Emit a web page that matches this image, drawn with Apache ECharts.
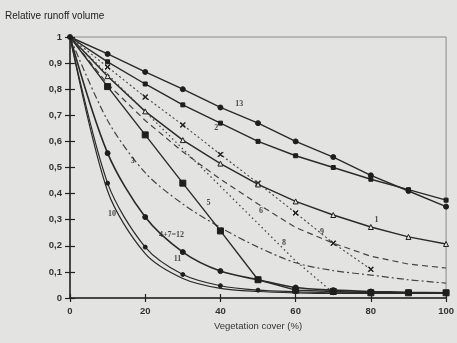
<!DOCTYPE html>
<html>
<head>
<meta charset="utf-8">
<script src="https://cdn.jsdelivr.net/npm/echarts@6/dist/echarts.min.js"></script>
<style>
  html, body { margin: 0; padding: 0; background: #e3e3e1; }
  #chart { width: 457px; height: 343px; }
</style>
</head>
<body>
<div id="chart"></div>
<script>
// vegetation cover (%)
var cover = [0, 10, 20, 30, 40, 50, 60, 70, 80, 90, 100];

// relative runoff volume per curve
var c13 = [1, 0.935, 0.866, 0.80, 0.73, 0.67, 0.60, 0.54, 0.47, 0.41, 0.35];
var c2 = [1, 0.905, 0.82, 0.74, 0.67, 0.60, 0.545, 0.50, 0.455, 0.415, 0.375];
var c9 = [1, 0.885, 0.77, 0.663, 0.55, 0.44, 0.326, 0.21, 0.11];
var c1 = [1, 0.85, 0.715, 0.605, 0.515, 0.435, 0.37, 0.318, 0.272, 0.234, 0.207];
var c6 = [1, 0.82, 0.68, 0.56, 0.455, 0.36, 0.27, 0.21, 0.16, 0.13, 0.115];
var c8 = [1, 0.857, 0.714, 0.571, 0.428, 0.285, 0.142, 0.02];
var c3 = [1, 0.68, 0.48, 0.36, 0.27, 0.195, 0.135, 0.105, 0.088, 0.07, 0.057];
var c5 = [1, 0.81, 0.625, 0.44, 0.257, 0.07, 0.03, 0.025, 0.02, 0.02, 0.02];
var c12 = [1, 0.555, 0.31, 0.176, 0.103, 0.07, 0.04, 0.03, 0.025, 0.022, 0.02];
var c11 = [1, 0.44, 0.195, 0.09, 0.047, 0.03, 0.024, 0.02, 0.02, 0.02, 0.02];
var c10 = [1, 0.41, 0.17, 0.075, 0.037, 0.025, 0.02, 0.018, 0.018, 0.018, 0.018];

// curve numbers written on the plot
var labelText = ["13", "2", "1", "3", "5", "6", "8", "9", "10", "4+7=12", "11"];
var labelX = [45, 38.9, 81.5, 16.7, 36.8, 50.8, 56.9, 67, 11.2, 27, 28.6];
var labelY = [0.743, 0.651, 0.30, 0.525, 0.364, 0.333, 0.21, 0.253, 0.322, 0.241, 0.149];

var xMark = "path://M0,1L1,0L5,4L9,0L10,1L6,5L10,9L9,10L5,6L1,10L0,9L4,5Z";

function pairs(ys) {
  return ys.map(function (y, i) { return [cover[i], y]; });
}

function curve(name, ys, opt) {
  var sym = opt.symbol || "none";
  return {
    name: name,
    type: "line",
    data: pairs(ys),
    smooth: opt.smooth || false,
    // the shared start point (0, 1) carries one marker only
    symbol: function (v, p) { return p.dataIndex === 0 ? (opt.origin ? "circle" : "none") : sym; },
    symbolSize: opt.size || 5,
    showSymbol: true,
    lineStyle: { color: opt.color || "#2a2a2a", width: opt.width || 1.4, type: opt.dash || "solid" },
    itemStyle: { color: opt.fill || "#1e1e1e", borderColor: "#1e1e1e", borderWidth: 1 },
    z: 3
  };
}

var myChart = echarts.init(document.getElementById("chart"));
var font = "Liberation Sans, Arial, sans-serif";

var option = {
  backgroundColor: "#e3e3e1",
  animation: false,
  textStyle: { fontFamily: font },
  grid: { left: 70, right: 9, top: 37, bottom: 45, show: true, borderColor: "#8a8a8a", borderWidth: 1 },
  title: {
    text: "Relative runoff volume",
    left: 5, top: 11, padding: 0,
    textStyle: { fontSize: 10, fontWeight: "normal", color: "#222", fontFamily: font }
  },
  xAxis: [
    {
      type: "value", min: 0, max: 100, interval: 20,
      name: "Vegetation cover (%)", nameLocation: "middle", nameGap: 22,
      nameTextStyle: { fontSize: 9.5, color: "#333" },
      axisLine: { lineStyle: { color: "#222", width: 1.5 } },
      axisTick: { length: 4, lineStyle: { color: "#222", width: 1.2 } },
      axisLabel: { fontSize: 9.5, color: "#333", margin: 8, fontWeight: "bold" },
      splitLine: { show: false }
    },
    {
      type: "value", min: 0, max: 100, interval: 20, position: "bottom",
      axisLine: { show: false }, axisLabel: { show: false }, splitLine: { show: false },
      axisTick: { inside: true, length: 4, lineStyle: { color: "#222", width: 1.2 } }
    }
  ],
  yAxis: [
    {
      type: "value", min: 0, max: 1, interval: 0.1,
      axisLine: { show: true, lineStyle: { color: "#222", width: 1.5 } },
      axisTick: { show: true, length: 5, lineStyle: { color: "#222", width: 1.2 } },
      axisLabel: {
        fontSize: 9.5, color: "#333", margin: 8, fontWeight: "bold",
        formatter: function (v) {
          if (v === 0 || v === 1) return String(v);
          return v.toFixed(1).replace(".", ",");
        }
      },
      splitLine: { show: false }
    },
    {
      type: "value", min: 0, max: 1, interval: 0.1, position: "left",
      axisLine: { show: false }, axisLabel: { show: false }, splitLine: { show: false },
      axisTick: { show: true, inside: true, length: 5, lineStyle: { color: "#222", width: 1.2 } }
    }
  ],
  series: [
    curve("13", c13, { symbol: "circle", size: 5, origin: true }),
    curve("2", c2, { symbol: "rect", size: 4 }),
    curve("9", c9, { symbol: xMark, size: 5, dash: [2, 2.5], color: "#444", width: 1.1 }),
    curve("1", c1, { symbol: "triangle", size: 5, fill: "#e3e3e1" }),
    curve("6", c6, { dash: [6, 4], color: "#444", width: 1.2 }),
    curve("8", c8, { dash: [1.5, 3], color: "#444", width: 1.3 }),
    curve("3", c3, { dash: [7, 3, 2, 3], color: "#444", width: 1.2, smooth: 0.3 }),
    curve("5", c5, { symbol: "rect", size: 6 }),
    curve("12", c12, { symbol: "circle", size: 5, smooth: 0.3, width: 1.6 }),
    curve("11", c11, { symbol: "circle", size: 4, smooth: 0.3, width: 1.2 }),
    curve("10", c10, { smooth: 0.3, width: 1.2 }),
    {
      name: "labels",
      type: "scatter",
      symbolSize: 0,
      data: labelText.map(function (t, i) { return { value: [labelX[i], labelY[i]], name: t }; }),
      label: {
        show: true, position: "inside", formatter: "{b}",
        fontSize: 8, fontWeight: "bold", color: "#222", fontFamily: "Liberation Serif, serif"
      },
      z: 5
    }
  ]
};

myChart.setOption(option);
</script>
</body>
</html>
